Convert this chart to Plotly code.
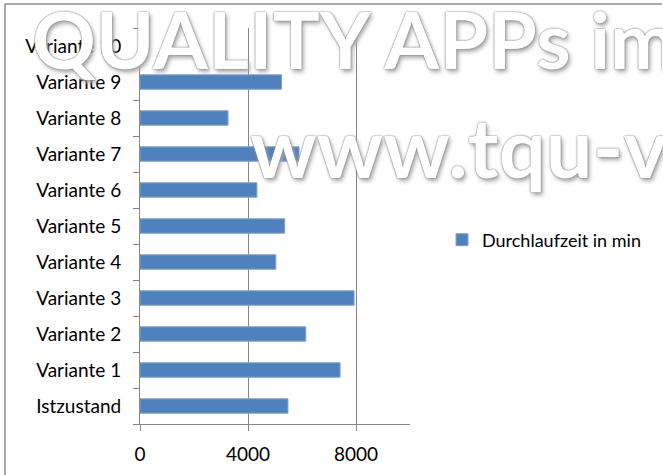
import plotly.graph_objects as go

# chart data
categories = [
    "Istzustand", "Variante 1", "Variante 2", "Variante 3", "Variante 4", "Variante 5",
    "Variante 6", "Variante 7", "Variante 8", "Variante 9", "Variante 10",
]
durchlaufzeit = [5480, 7410, 6140, 7930, 5030, 5360, 4330, 5890, 3260, 5240, None]
x_ticks = [0, 4000, 8000]
series_name = "Durchlaufzeit in min"
watermark = ["QUALITY APPs im", "www.tqu-v"]

FONT = "Lato"
GRID = "#868686"

# plot area in pixels: x 140..410, y 28..424
L, T, W, H = 140, 28, 663, 475
B = H - 424
R = 0


def px_x(px):
    return (px - L) / (W - L - R)


def px_y(py):
    return (H - B - py) / (H - B - T)


fig = go.Figure(
    go.Bar(
        x=durchlaufzeit,
        y=categories,
        orientation="h",
        name=series_name,
        marker=dict(color="#4F81BD", line=dict(color="#7FA2CE", width=1)),
        showlegend=True,
    )
)

fig.update_xaxes(
    domain=[0, px_x(410)],
    range=[0, 10000],
    tickvals=x_ticks,
    ticktext=[str(v) for v in x_ticks],
    showgrid=True,
    gridcolor=GRID,
    gridwidth=1,
    zeroline=False,
    showline=True,
    linecolor=GRID,
    linewidth=1,
    ticks="outside",
    ticklen=6,
    tickcolor=GRID,
    ticklabelstandoff=7,
    tickfont=dict(family=FONT, size=19, color="#000000"),
    fixedrange=True,
)
fig.update_yaxes(
    type="category",
    categoryorder="array",
    categoryarray=categories,
    showgrid=False,
    showline=True,
    linecolor=GRID,
    linewidth=1,
    ticks="outside",
    tickson="boundaries",
    ticklen=6,
    tickcolor=GRID,
    ticklabelstandoff=14,
    tickfont=dict(family=FONT, size=19, color="#000000"),
    fixedrange=True,
)

# outer chart border (left and top edges visible)
border = dict(color="#8C8C8C", width=1.5)
fig.add_shape(type="line", xref="paper", yref="paper",
              x0=px_x(5), x1=px_x(5), y0=px_y(4), y1=px_y(480), line=border)
fig.add_shape(type="line", xref="paper", yref="paper",
              x0=px_x(5), x1=px_x(662), y0=px_y(4), y1=px_y(4), line=border)

# watermark overlay
shadow = "0px 0px 1px #7a7a7a, 0px 0px 2px #8a8a8a, 2px 3px 4px #a8a8a8"
fig.add_annotation(text=watermark[0], xref="paper", yref="paper",
                   x=px_x(30), y=px_y(38), xanchor="left", yanchor="middle",
                   showarrow=False,
                   font=dict(family=FONT, size=79, weight="bold",
                             color="#FFFFFF", shadow=shadow))
fig.add_annotation(text=watermark[1], xref="paper", yref="paper",
                   x=px_x(248), y=px_y(146), xanchor="left", yanchor="middle",
                   showarrow=False,
                   font=dict(family=FONT, size=83, weight="bold",
                             color="#FFFFFF", shadow=shadow))

fig.update_layout(
    width=W,
    height=H,
    margin=dict(l=L, r=R, t=T, b=B, autoexpand=False),
    bargap=0.6,
    paper_bgcolor="#FFFFFF",
    plot_bgcolor="#FFFFFF",
    font=dict(family=FONT, size=18, color="#000000"),
    legend=dict(
        x=px_x(442), y=px_y(240), xanchor="left", yanchor="middle",
        font=dict(family=FONT, size=18, color="#000000"),
        itemwidth=30, bgcolor="rgba(0,0,0,0)",
    ),
)

# the page body has a default 8px margin; drop it so the chart sits at 0,0
fig.write_html(
    "out.html",
    config={"displayModeBar": False},
    post_script="document.body.style.margin='0';",
)
